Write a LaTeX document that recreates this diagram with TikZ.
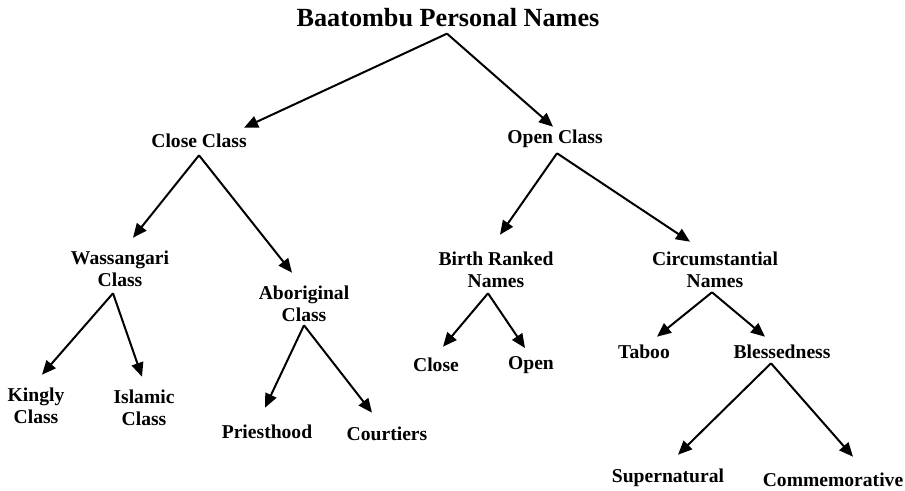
\documentclass[tikz,border=0pt]{standalone}
\usepackage{fontspec}
\setmainfont{Liberation Serif}
\usetikzlibrary{arrows.meta}

\begin{document}
\begin{tikzpicture}[x=0.5pt,y=-0.5pt,
    lbl/.style={font=\bfseries\fontsize{9.8}{11}\selectfont, align=center, inner sep=1pt},
    arr/.style={-{Triangle[length=7pt,width=6pt]}, line width=1pt}]

    % this rectangle guarantees the graph's total size
    \useasboundingbox (0,0) rectangle (905,491);

    %root
    \node (title) at (448,18) [lbl, font=\bfseries\fontsize{13.1}{15}\selectfont] {Baatombu Personal Names};

    %first level
    \node (close) at (199,141) [lbl] {Close Class};
    \node (open) at (555,139) [lbl] {Open Class};

    %second level
    \node (wass) at (120,269) [lbl] {Wassangari\\Class};
    \node (abor) at (304,304) [lbl] {Aboriginal\\Class};
    \node (birth) at (496,270) [lbl] {Birth Ranked\\Names};
    \node (circ) at (715,270) [lbl] {Circumstantial\\Names};

    %leaves
    \node (kingly) at (36,406) [lbl] {Kingly\\Class};
    \node (islamic) at (144,408) [lbl] {Islamic\\Class};
    \node (priest) at (267,432) [lbl] {Priesthood};
    \node (court) at (387,434) [lbl] {Courtiers};
    \node (closeb) at (436,365) [lbl] {Close};
    \node (openb) at (531,365) [lbl] {Open};
    \node (taboo) at (644,352) [lbl] {Taboo};
    \node (bless) at (782,352) [lbl] {Blessedness};
    \node (super) at (668,478) [lbl] {Supernatural};
    \node (comm) at (833,480) [lbl] {Commemorative};

    %arrows (shifts in pixels of the picture)
    \begin{scope}[arr]
    \draw ([shift={(-1,4)}]title.south) -- ([shift={(-5,-4)}]close.north east);
    \draw ([shift={(-1,4)}]title.south) -- ([shift={(-2,-1)}]open.north);
    \draw ([shift={(0,5)}]close.south) -- ([shift={(13,-11)}]wass.north);
    \draw ([shift={(0,5)}]close.south) -- ([shift={(-12,-11)}]abor.north);
    \draw ([shift={(2,3)}]open.south) -- ([shift={(4,-15)}]birth.north);
    \draw ([shift={(2,3)}]open.south) -- ([shift={(-25,-8)}]circ.north);
    \draw ([shift={(-7,4)}]wass.south) -- ([shift={(6,-11)}]kingly.north);
    \draw ([shift={(-7,4)}]wass.south) -- ([shift={(-2,-11)}]islamic.north);
    \draw ([shift={(0,1)}]abor.south) -- ([shift={(-2,-15)}]priest.north);
    \draw ([shift={(0,1)}]abor.south) -- ([shift={(-15,-12)}]court.north);
    \draw ([shift={(-8,3)}]birth.south) -- ([shift={(7,-9)}]closeb.north);
    \draw ([shift={(-8,3)}]birth.south) -- ([shift={(-6,-6)}]openb.north);
    \draw ([shift={(-3,2)}]circ.south) -- ([shift={(13,-6)}]taboo.north);
    \draw ([shift={(-3,2)}]circ.south) -- ([shift={(-17,-6)}]bless.north);
    \draw ([shift={(-11,2)}]bless.south) -- ([shift={(10,-12)}]super.north);
    \draw ([shift={(-11,2)}]bless.south) -- ([shift={(20,-14)}]comm.north);
    \end{scope}

\end{tikzpicture}
\end{document}
